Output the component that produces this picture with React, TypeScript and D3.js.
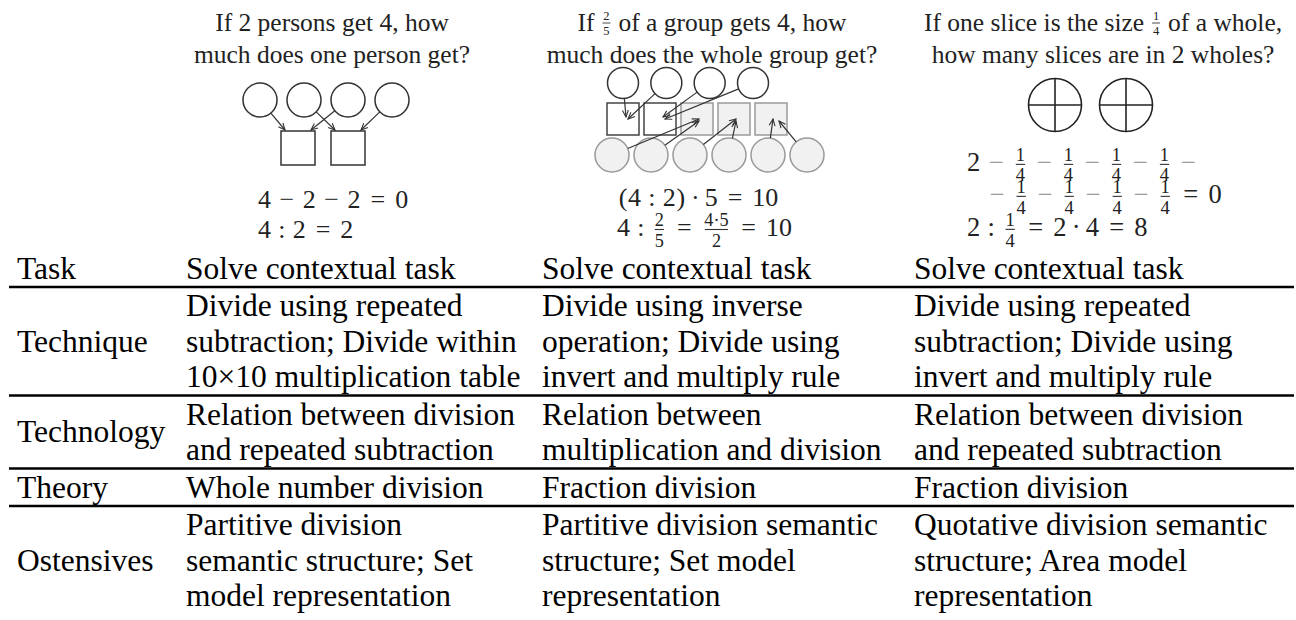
import * as d3 from "d3";
import React from "react";

// Table of praxeologies for three division tasks (whole number, partitive fraction, quotative fraction)

const W = 1296;
const H = 620;
const SERIF = "'Liberation Serif', 'Times New Roman', serif";

// ---- table content
const rowLabels = ["Task", "Technique", "Technology", "Theory", "Ostensives"];

const wholeNumberCells = [
  ["Solve contextual task"],
  ["Divide using repeated", "subtraction; Divide within", "10×10 multiplication table"],
  ["Relation between division", "and repeated subtraction"],
  ["Whole number division"],
  ["Partitive division", "semantic structure; Set", "model representation"],
];
const partitiveFractionCells = [
  ["Solve contextual task"],
  ["Divide using inverse", "operation; Divide using", "invert and multiply rule"],
  ["Relation between", "multiplication and division"],
  ["Fraction division"],
  ["Partitive division semantic", "structure; Set model", "representation"],
];
const quotativeFractionCells = [
  ["Solve contextual task"],
  ["Divide using repeated", "subtraction; Divide using", "invert and multiply rule"],
  ["Relation between division", "and repeated subtraction"],
  ["Fraction division"],
  ["Quotative division semantic", "structure; Area model", "representation"],
];
const columnCells = [wholeNumberCells, partitiveFractionCells, quotativeFractionCells];

// ---- task questions (header)
type Frac = { n: string; d: string };
type Part = string | Frac;
const questionLines: Part[][][] = [
  [["If 2 persons get 4, how"], ["much does one person get?"]],
  [["If ", { n: "2", d: "5" }, " of a group gets 4, how"], ["much does the whole group get?"]],
  [["If one slice is the size ", { n: "1", d: "4" }, " of a whole,"], ["how many slices are in 2 wholes?"]],
];

// ---- worked equations
const quarter: Frac = { n: "1", d: "4" };
const eqPersons: Part[][] = [
  ["4", "−", "2", "−", "2", "=", "0"],
  ["4", ":", "2", "=", "2"],
];
const eqGroup: Part[][] = [
  ["(", "4", ":", "2", ")", "·", "5", "=", "10"],
  ["4", ":", { n: "2", d: "5" }, "=", { n: "4·5", d: "2" }, "=", "10"],
];
const eqSlices: Part[][] = [
  ["2", "−", quarter, "−", quarter, "−", quarter, "−", quarter, "−"],
  ["−", quarter, "−", quarter, "−", quarter, "−", quarter, "=", "0"],
  ["2", ":", quarter, "=", "2", "·", "4", "=", "8"],
];

// ---- diagram structure: [from, to]
const personLinks = [[0, 0], [2, 0], [1, 1], [3, 1]];
const groupTopLinks = [[0, 0], [1, 0], [2, 1], [3, 1]];
const groupBottomLinks = [[0, 2], [1, 2], [2, 3], [3, 3], [4, 4], [5, 4]];
const wholes = [0, 1];

// ---- layout
const tableFont = 31.5;
const lineH = 35.5;
const rowPad = 1;
const colX = d3.scaleOrdinal<string, number>().domain(["label", "0", "1", "2"]).range([17, 186, 542, 914]);
const headerCenter = d3.scaleOrdinal<number, number>().domain([0, 1, 2]).range([332, 712, 1103]);

let ctx: CanvasRenderingContext2D | null = null;
function textWidth(s: string, size: number) {
  if (!ctx) ctx = document.createElement("canvas").getContext("2d");
  if (!ctx) return s.length * size * 0.45;
  ctx.font = `${size}px ${SERIF}`;
  return ctx.measureText(s).width;
}

function Arrow({ from, to, r }: { from: [number, number]; to: [number, number]; r: number }) {
  const dx = to[0] - from[0];
  const dy = to[1] - from[1];
  const len = Math.hypot(dx, dy);
  const x1 = from[0] + (dx / len) * r;
  const y1 = from[1] + (dy / len) * r;
  return <line x1={x1} y1={y1} x2={to[0]} y2={to[1]} stroke="#333" strokeWidth={1.2} markerEnd="url(#vhead)" />;
}

// em widths modelled on Computer Modern math
const charEm = (c: string) => (/[0-9]/.test(c) ? 0.5 : c === "·" ? 0.278 : c === "(" || c === ")" ? 0.389 : 0.5);
const strEm = (s: string) => d3.sum(Array.from(s), charEm);

function MathLine({ tokens, x0, base, f, minusColor = "#333", numUp = 0.394, denDown = 0.42 }: {
  tokens: Part[]; x0: number; base: number; f: number; minusColor?: string; numUp?: number; denDown?: number;
}) {
  let x = x0;
  const items: React.ReactNode[] = [];
  tokens.forEach((tok, i) => {
    if (typeof tok !== "string") {
      const w = (Math.max(strEm(tok.n), strEm(tok.d)) * 0.7 + 0.24) * f;
      const cx = x + w / 2;
      items.push(
        <g key={i}>
          <text x={cx} y={base - numUp * f} fontSize={0.7 * f} textAnchor="middle">{tok.n}</text>
          <line x1={x + 0.12 * f} x2={x + w - 0.12 * f} y1={base - 0.25 * f} y2={base - 0.25 * f} stroke="#333" strokeWidth={1.1} />
          <text x={cx} y={base + denDown * f} fontSize={0.7 * f} textAnchor="middle">{tok.d}</text>
        </g>
      );
      x += w;
      return;
    }
    const bin = tok === "−" || tok === "·";
    const rel = tok === "=" || tok === ":";
    if (bin || rel) {
      const box = tok === "−" || tok === "=" ? 0.778 : 0.278;
      const sp = bin ? 0.222 : 0.278;
      const cx = x + (sp + box / 2) * f;
      items.push(
        <text key={i} x={cx} y={base} fontSize={f} textAnchor="middle" fill={tok === "−" ? minusColor : "#222"}>{tok}</text>
      );
      x += (box + 2 * sp) * f;
    } else {
      const w = strEm(tok) * f;
      items.push(<text key={i} x={x + w / 2} y={base} fontSize={f} textAnchor="middle">{tok}</text>);
      x += w;
    }
  });
  return <g fill="#222">{items}</g>;
}

function HeaderLine({ parts, cx, base }: { parts: Part[]; cx: number; base: number }) {
  const f = 25.5;
  const sf = 12.5;
  const widths = parts.map((p) => (typeof p === "string" ? textWidth(p, f) : sf * 0.5 + 5));
  let x = cx - d3.sum(widths) / 2;
  return (
    <g fill="#222">
      {parts.map((p, i) => {
        const x0 = x;
        x += widths[i];
        if (typeof p === "string")
          return <text key={i} x={x0} y={base} fontSize={f} style={{ whiteSpace: "pre" }}>{p}</text>;
        const c = x0 + widths[i] / 2;
        return (
          <g key={i}>
            <text x={c} y={base - 11} fontSize={sf} textAnchor="middle">{p.n}</text>
            <line x1={c - 4} x2={c + 4} y1={base - 8} y2={base - 8} stroke="#333" strokeWidth={0.9} />
            <text x={c} y={base + 4} fontSize={sf} textAnchor="middle">{p.d}</text>
          </g>
        );
      })}
    </g>
  );
}

export default function App() {
  // table rows
  const lineCounts = rowLabels.map((_, r) => d3.max(columnCells, (col) => col[r].length) as number);
  const heights = lineCounts.map((n) => n * lineH + 2 * rowPad);
  const tableTop = 249.5;
  const tops = [tableTop, ...Array.from(d3.cumsum(heights)).map((h) => tableTop + h)];
  const ascent = 0.33 * tableFont;

  // panel 1 scales
  const p1c = d3.scaleLinear().domain([0, 3]).range([260, 392]);
  const p1s = d3.scaleLinear().domain([0, 1]).range([281, 331]);
  const p1cy = 100, p1r = 17, p1top = 131, p1size = 34;

  // panel 2 scales
  const p2t = d3.scaleLinear().domain([0, 3]).range([623, 753]);
  const p2s = d3.scaleLinear().domain([0, 4]).range([607, 755]);
  const p2b = d3.scaleLinear().domain([0, 5]).range([612, 807]);
  const p2ty = 83, p2tr = 15.5, p2sy = 103, p2size = 32, p2by = 155, p2br = 17;

  // panel 3
  const p3 = d3.scaleLinear().domain([0, 1]).range([1055, 1126]);
  const p3y = 105, p3r = 26.5;

  return (
    <svg width={W} height={H} style={{ position: "absolute", left: 0, top: 0, background: "#fff" }} fontFamily={SERIF}>
      <defs>
        <marker id="vhead" viewBox="0 0 10 10" refX="9" refY="5" markerWidth="7" markerHeight="7" orient="auto">
          <path d="M1,1.5 L9,5 L1,8.5" fill="none" stroke="#333" strokeWidth="1.3" />
        </marker>
      </defs>

      {/* questions */}
      {questionLines.map((lines, c) =>
        lines.map((parts, l) => <HeaderLine key={`${c}-${l}`} parts={parts} cx={headerCenter(c)} base={31 + l * 32} />)
      )}

      {/* panel 1: 4 given to 2 persons */}
      <g stroke="#333" strokeWidth={1.5} fill="#fff">
        {d3.range(4).map((i) => <circle key={i} cx={p1c(i)} cy={p1cy} r={p1r} />)}
        {d3.range(2).map((i) => <rect key={i} x={p1s(i)} y={p1top} width={p1size} height={p1size} />)}
      </g>
      {personLinks.map(([c, s], i) => {
        const left = p1c(c) < p1s(s) + p1size / 2;
        return <Arrow key={i} from={[p1c(c), p1cy]} to={[p1s(s) + (left ? 4 : p1size - 4), p1top - 1]} r={p1r} />;
      })}
      <MathLine tokens={eqPersons[0]} x0={258} base={208} f={26} minusColor="#444" />
      <MathLine tokens={eqPersons[1]} x0={258} base={238} f={26} />

      {/* panel 2: 2/5 of a group gets 4 */}
      <g strokeWidth={1.5}>
        {d3.range(5).map((i) => (
          <rect key={i} x={p2s(i)} y={p2sy} width={p2size} height={p2size}
            fill={i < 2 ? "#fff" : "#f1f1f1"} stroke={i < 2 ? "#444" : "#9a9a9a"} />
        ))}
        {d3.range(4).map((i) => <circle key={i} cx={p2t(i)} cy={p2ty} r={p2tr} fill="#fff" stroke="#333" />)}
        {d3.range(6).map((i) => <circle key={i} cx={p2b(i)} cy={p2by} r={p2br} fill="#f1f1f1" stroke="#9a9a9a" />)}
      </g>
      {groupTopLinks.map(([c, s], i) => {
        const cx = p2s(s) + p2size / 2;
        return <Arrow key={i} from={[p2t(c), p2ty]} to={[cx + 3 + (i % 2) * 2, p2sy + 14 + (i % 2) * 2]} r={p2tr} />;
      })}
      {groupBottomLinks.map(([c, s], i) => {
        const cx = p2s(s) + p2size / 2;
        const right = p2b(c) > cx + 10;
        return <Arrow key={i} from={[p2b(c), p2by]} to={[cx + (right ? 8 : 2), p2sy + 16 + (i % 2) * 2]} r={p2br} />;
      })}
      <MathLine tokens={eqGroup[0]} x0={618} base={206} f={26} />
      <MathLine tokens={eqGroup[1]} x0={617} base={236} f={26} />

      {/* panel 3: slices of 1/4 in 2 wholes */}
      <g stroke="#222" strokeWidth={1.6} fill="none">
        {wholes.map((i) => (
          <g key={i}>
            <circle cx={p3(i)} cy={p3y} r={p3r} />
            <line x1={p3(i) - p3r} x2={p3(i) + p3r} y1={p3y} y2={p3y} />
            <line x1={p3(i)} x2={p3(i)} y1={p3y - p3r} y2={p3y + p3r} />
          </g>
        ))}
      </g>
      <MathLine tokens={eqSlices[0]} x0={967} base={171} f={26.5} minusColor="#9c9c9c" denDown={0.36} />
      <MathLine tokens={eqSlices[1]} x0={981} base={203} f={26.5} minusColor="#9c9c9c" numUp={0.37} />
      <MathLine tokens={eqSlices[2]} x0={967} base={236} f={26.5} numUp={0.37} />

      {/* table */}
      <g fontSize={tableFont} fill="#000">
        {rowLabels.map((label, r) => (
          <g key={label}>
            <text x={colX("label")} y={tops[r] + heights[r] / 2 + ascent}>{label}</text>
            {columnCells.map((col, c) =>
              col[r].map((line, l) => (
                <text key={`${c}-${l}`} x={colX(String(c))} y={tops[r] + rowPad + (l + 0.5) * lineH + ascent}>{line}</text>
              ))
            )}
          </g>
        ))}
      </g>
      <g stroke="#000" strokeWidth={2.5}>
        {tops.slice(1, rowLabels.length).map((y, i) => <line key={i} x1={9} x2={1294} y1={y} y2={y} />)}
      </g>
    </svg>
  );
}
